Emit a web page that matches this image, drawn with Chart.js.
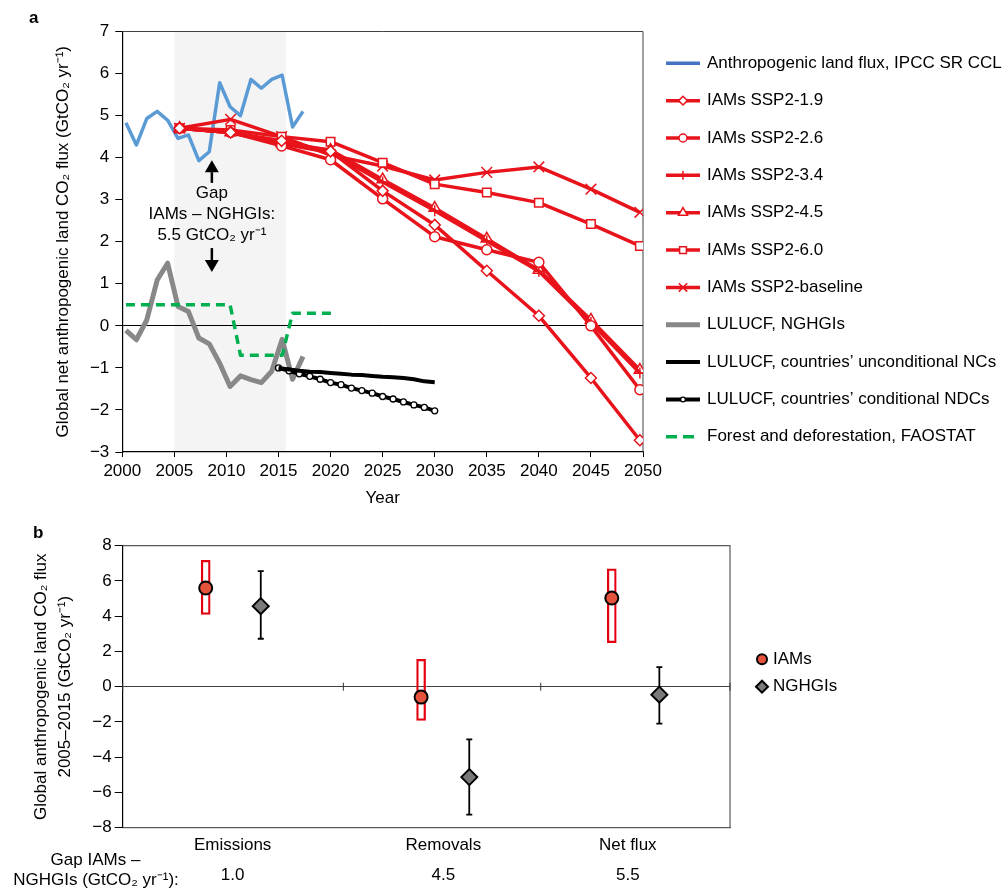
<!DOCTYPE html>
<html>
<head>
<meta charset="utf-8">
<script src="https://cdn.jsdelivr.net/npm/chart.js@4.4.1/dist/chart.umd.min.js"></script>
<style>
  html, body { margin: 0; padding: 0; background: #fff; }
  #wrap { position: relative; width: 1008px; height: 891px; }
  canvas { position: absolute; left: 0; }
  #panelA { top: 0; }
  #panelB { top: 510px; }
</style>
</head>
<body>
<div id="wrap">
  <canvas id="panelA" width="1008" height="510"></canvas>
  <canvas id="panelB" width="1008" height="381"></canvas>
</div>
<script>
// ==========================================
// 1. DATA
// ==========================================

// --- panel a: annual series (plotted mid-year) ---
const annualYears = [2000, 2001, 2002, 2003, 2004, 2005, 2006, 2007, 2008, 2009, 2010, 2011, 2012, 2013, 2014, 2015, 2016, 2017];
const ipccLandFlux = [4.83, 4.30, 4.93, 5.10, 4.89, 4.46, 4.54, 3.93, 4.14, 5.78, 5.21, 5.00, 5.86, 5.65, 5.86, 5.96, 4.73, 5.10];
const nghgiLulucf = [-0.11, -0.33, 0.14, 1.09, 1.49, 0.46, 0.34, -0.29, -0.43, -0.89, -1.44, -1.19, -1.28, -1.35, -1.08, -0.32, -1.27, -0.73];

const faoYears = [2000, 2001, 2002, 2003, 2004, 2005, 2006, 2007, 2008, 2009, 2010, 2011, 2012, 2013, 2014, 2015, 2016, 2017, 2018, 2019, 2020];
const faoForest = [0.5, 0.5, 0.5, 0.5, 0.5, 0.5, 0.5, 0.5, 0.5, 0.5, 0.5, -0.7, -0.7, -0.7, -0.7, -0.7, 0.3, 0.3, 0.3, 0.3, 0.3];

const ndcYears = [2015, 2016, 2017, 2018, 2019, 2020, 2021, 2022, 2023, 2024, 2025, 2026, 2027, 2028, 2029, 2030];
const ndcUnconditional = [-1.0, -1.04, -1.07, -1.09, -1.10, -1.12, -1.14, -1.16, -1.17, -1.19, -1.21, -1.22, -1.24, -1.27, -1.32, -1.34];
const ndcConditional = [-1.0, -1.07, -1.14, -1.20, -1.27, -1.35, -1.40, -1.48, -1.54, -1.60, -1.68, -1.74, -1.81, -1.88, -1.94, -2.02];

// --- panel a: IAM pathways ---
const iamYears = [2005.5, 2010.4, 2015.3, 2020, 2025, 2030, 2035, 2040, 2045, 2049.7];
const ssp19 = [4.70, 4.60, 4.40, 4.15, 3.21, 2.40, 1.31, 0.24, -1.24, -2.72];
const ssp26 = [4.70, 4.60, 4.28, 3.95, 3.02, 2.12, 1.81, 1.51, 0.00, -1.52];
const ssp34 = [4.70, 4.60, 4.33, 4.12, 3.42, 2.74, 2.02, 1.30, 0.08, -1.12];
const ssp45 = [4.70, 4.60, 4.34, 4.18, 3.48, 2.80, 2.07, 1.33, 0.14, -1.05];
const ssp60 = [4.70, 4.66, 4.50, 4.38, 3.88, 3.37, 3.17, 2.93, 2.42, 1.90];
const sspBase = [4.70, 4.91, 4.50, 4.06, 3.80, 3.47, 3.65, 3.78, 3.25, 2.70];

const annualOffset = 0.35;           // annual values sit inside their year
const gapPeriod = [2005, 2015.7];    // shaded 2005-2015 window
const gapArrowYear = 2008.6;

// --- panel b ---
const categories = ['Emissions', 'Removals', 'Net flux'];
const gapValues = ['1.0', '4.5', '5.5'];
const categoryPos = [0.543, 1.584, 2.495];
const categoryBounds = [0, 1.09, 2.065, 3];
const iamPos = [0.41, 1.474, 2.416];
const iamMean = [5.6, -0.59, 5.03];
const iamLow = [4.1, -1.91, 2.5];
const iamHigh = [7.17, 1.55, 6.69];
const nghgiPos = [0.682, 1.712, 2.651];
const nghgiMean = [4.57, -5.13, -0.45];
const nghgiLow = [2.72, -7.26, -2.1];
const nghgiHigh = [6.56, -2.99, 1.11];

// ==========================================
// 2. SHARED SETUP
// ==========================================
const FONT = "'Liberation Sans', Arial, Helvetica, sans-serif";
Chart.defaults.font.family = FONT;
Chart.defaults.font.size = 17;
Chart.defaults.color = '#000';
Chart.defaults.animation = false;

const RED = '#e8131b';
const pts = (xs, ys, dx = 0) => xs.map((x, i) => ({ x: x + dx, y: ys[i] }));
const fmtMinus = v => (v < 0 ? '\u2212' + Math.abs(v) : String(v));

function marker(ctx, style, r, bw, x, y) {
  if (Chart.helpers && Chart.helpers.drawPoint) {
    Chart.helpers.drawPoint(ctx, { pointStyle: style, radius: r, borderWidth: bw, rotation: 0 }, x, y);
  } else {
    ctx.beginPath(); ctx.arc(x, y, r, 0, Math.PI * 2); ctx.fill(); ctx.stroke();
  }
}

function iamSet(label, values, style, radius) {
  return {
    label, data: pts(iamYears, values),
    borderColor: RED, borderWidth: 3.5,
    pointStyle: style, pointRadius: radius, pointBorderWidth: 1.5,
    pointBackgroundColor: '#fff', pointBorderColor: RED, order: 0
  };
}

// ==========================================
// 3. PANEL A
// ==========================================
const shadeA = {
  id: 'shadeA',
  beforeDraw(chart) {
    const { ctx, chartArea: a, scales: { x } } = chart;
    ctx.save();
    ctx.fillStyle = '#f4f4f4';
    const x0 = x.getPixelForValue(gapPeriod[0]), x1 = x.getPixelForValue(gapPeriod[1]);
    ctx.fillRect(x0, a.top, x1 - x0, a.bottom - a.top);
    ctx.restore();
  },
  beforeDatasetsDraw(chart) {
    const { ctx, chartArea: a } = chart;
    ctx.save();
    ctx.strokeStyle = '#404040'; ctx.lineWidth = 1;
    ctx.beginPath(); ctx.moveTo(a.left, a.top); ctx.lineTo(a.right, a.top); ctx.lineTo(a.right, a.bottom); ctx.stroke();
    ctx.restore();
  }
};

function arrow(ctx, x, yFrom, yTo) {
  const dir = yTo < yFrom ? -1 : 1;
  const head = 12;
  ctx.beginPath();
  ctx.moveTo(x, yFrom); ctx.lineTo(x, yTo - dir * head);
  ctx.stroke();
  ctx.beginPath();
  ctx.moveTo(x, yTo);
  ctx.lineTo(x - 7, yTo - dir * head);
  ctx.lineTo(x + 7, yTo - dir * head);
  ctx.closePath();
  ctx.fill();
}

const notesA = {
  id: 'notesA',
  afterDatasetsDraw(chart) {
    const { ctx, scales: { x, y } } = chart;
    const cx = x.getPixelForValue(gapArrowYear);
    ctx.save();
    ctx.fillStyle = '#000'; ctx.strokeStyle = '#000'; ctx.lineWidth = 2.5;
    arrow(ctx, cx, y.getPixelForValue(3.4), y.getPixelForValue(3.94));
    arrow(ctx, cx, y.getPixelForValue(1.85), y.getPixelForValue(1.28));
    ctx.font = `17px ${FONT}`; ctx.textAlign = 'center'; ctx.textBaseline = 'middle';
    ctx.fillText('Gap', cx, y.getPixelForValue(3.16));
    ctx.fillText('IAMs \u2013 NGHGIs:', cx, y.getPixelForValue(2.66));
    ctx.fillText('5.5 GtCO\u2082 yr\u207B\u00B9', cx, y.getPixelForValue(2.16));
    ctx.font = `bold 17px ${FONT}`; ctx.textAlign = 'left'; ctx.textBaseline = 'alphabetic';
    ctx.fillText('a', 29, 23);
    ctx.restore();
  },
  afterDraw(chart) {
    const ctx = chart.ctx;
    ctx.save();
    chart.data.datasets.forEach((ds, i) => {
      const y = 63.3 + i * 37.35;
      ctx.strokeStyle = ds.legendColor || ds.borderColor;
      ctx.lineWidth = ds.borderWidth;
      ctx.setLineDash(ds.borderDash ? [11, 6] : []);
      ctx.beginPath(); ctx.moveTo(666, y); ctx.lineTo(700, y); ctx.stroke();
      ctx.setLineDash([]);
      if (ds.pointRadius > 0) {
        ctx.fillStyle = ds.pointBackgroundColor; ctx.strokeStyle = ds.pointBorderColor; ctx.lineWidth = ds.pointBorderWidth;
        marker(ctx, ds.pointStyle, ds.pointRadius * 0.8, ds.pointBorderWidth, 683, y);
      }
      ctx.fillStyle = '#000'; ctx.font = `17px ${FONT}`;
      ctx.textAlign = 'left'; ctx.textBaseline = 'middle';
      ctx.fillText(ds.label, 707, y);
    });
    ctx.restore();
  }
};

new Chart(document.getElementById('panelA'), {
  type: 'line',
  data: {
    datasets: [
      { label: 'Anthropogenic land flux, IPCC SR CCL', data: pts(annualYears, ipccLandFlux, annualOffset),
        borderColor: '#5b9bd5', legendColor: '#4472c4', borderWidth: 3.5, pointRadius: 0, order: 4 },
      iamSet('IAMs SSP2-1.9', ssp19, 'rectRot', 5.5),
      iamSet('IAMs SSP2-2.6', ssp26, 'circle', 5),
      iamSet('IAMs SSP2-3.4', ssp34, 'cross', 5.5),
      iamSet('IAMs SSP2-4.5', ssp45, 'triangle', 6.5),
      iamSet('IAMs SSP2-6.0', ssp60, 'rect', 6),
      iamSet('IAMs SSP2-baseline', sspBase, 'crossRot', 7.5),
      { label: 'LULUCF, NGHGIs', data: pts(annualYears, nghgiLulucf, annualOffset),
        borderColor: '#888888', borderWidth: 5, pointRadius: 0, order: 3 },
      { label: 'LULUCF, countries\u2019 unconditional NCs', data: pts(ndcYears, ndcUnconditional),
        borderColor: '#000', borderWidth: 4, pointRadius: 0, order: 1 },
      { label: 'LULUCF, countries\u2019 conditional NDCs', data: pts(ndcYears, ndcConditional),
        borderColor: '#000', borderWidth: 4, pointStyle: 'circle', pointRadius: 3,
        pointBackgroundColor: '#fff', pointBorderColor: '#000', pointBorderWidth: 1.3, order: 1 },
      { label: 'Forest and deforestation, FAOSTAT', data: pts(faoYears, faoForest, annualOffset),
        borderColor: '#00b050', borderWidth: 3.5, borderDash: [9, 6], pointRadius: 0, order: 2 }
    ]
  },
  options: {
    responsive: false,
    animation: false,
    layout: { padding: { left: 0, top: 31.5, right: 365, bottom: 0 } },
    elements: { line: { tension: 0, borderJoinStyle: 'round' } },
    plugins: { legend: { display: false }, tooltip: { enabled: false } },
    scales: {
      x: {
        type: 'linear', min: 2000, max: 2050,
        ticks: { stepSize: 5, padding: 4, maxRotation: 0, callback: v => String(v) },
        grid: { drawOnChartArea: false, color: '#000', tickLength: 5 },
        border: { color: '#000', width: 1.2 },
        title: { display: true, text: 'Year', padding: { top: 0, bottom: 1 } },
        afterFit: s => { s.height = 58; }
      },
      y: {
        min: -3, max: 7,
        ticks: { stepSize: 1, padding: 6, callback: fmtMinus },
        grid: { color: c => (c.tick && c.tick.value === 0 ? '#000' : 'rgba(0,0,0,0)'), tickColor: '#000', tickLength: 7 },
        border: { color: '#000', width: 1.2 },
        title: { display: true, text: 'Global net anthropogenic land CO\u2082 flux (GtCO\u2082 yr\u207B\u00B9)', padding: { top: 53, bottom: 0 } },
        afterFit: s => { s.width = 122.3; }
      }
    }
  },
  plugins: [shadeA, notesA]
});

// ==========================================
// 4. PANEL B
// ==========================================
const extrasB = {
  id: 'extrasB',
  beforeDatasetsDraw(chart) {
    const { ctx, chartArea: a, scales: { x, y } } = chart;
    ctx.save();
    ctx.strokeStyle = '#595959'; ctx.lineWidth = 1.2;
    ctx.beginPath(); ctx.moveTo(a.left, a.top); ctx.lineTo(a.right, a.top); ctx.lineTo(a.right, a.bottom); ctx.stroke();
    const y0 = y.getPixelForValue(0);
    ctx.strokeStyle = '#333'; ctx.lineWidth = 1;
    categoryBounds.forEach(v => {
      const px = x.getPixelForValue(v);
      ctx.beginPath(); ctx.moveTo(px, y0 - 4); ctx.lineTo(px, y0 + 4); ctx.stroke();
    });
    ctx.strokeStyle = '#000'; ctx.lineWidth = 1.8;
    nghgiPos.forEach((v, i) => {
      const px = x.getPixelForValue(v);
      const lo = y.getPixelForValue(nghgiLow[i]), hi = y.getPixelForValue(nghgiHigh[i]);
      ctx.beginPath();
      ctx.moveTo(px, lo); ctx.lineTo(px, hi);
      ctx.moveTo(px - 3, lo); ctx.lineTo(px + 3, lo);
      ctx.moveTo(px - 3, hi); ctx.lineTo(px + 3, hi);
      ctx.stroke();
    });
    ctx.restore();
  },
  afterDraw(chart) {
    const ctx = chart.ctx;
    ctx.save();
    ctx.fillStyle = '#000'; ctx.font = `17px ${FONT}`;
    ctx.textAlign = 'center'; ctx.textBaseline = 'middle';
    ctx.fillText('Gap IAMs \u2013', 95.5, 350);
    ctx.fillText('NGHGIs (GtCO\u2082 yr\u207B\u00B9):', 96, 370);
    // legend
    const items = chart.data.datasets.filter(ds => ds.type === 'scatter');
    items.forEach((ds, i) => {
      const y = 149.3 + i * 27.4;
      ctx.fillStyle = ds.pointBackgroundColor; ctx.strokeStyle = ds.pointBorderColor;
      ctx.lineWidth = ds.pointBorderWidth;
      marker(ctx, ds.pointStyle, ds.pointStyle === 'circle' ? 5 : 6, ds.pointBorderWidth, 762, y);
      ctx.fillStyle = '#000'; ctx.textAlign = 'left';
      ctx.fillText(ds.label, 773, y);
    });
    ctx.font = `bold 17px ${FONT}`; ctx.textBaseline = 'alphabetic';
    ctx.fillText('b', 33, 28);
    ctx.restore();
  }
};

new Chart(document.getElementById('panelB'), {
  type: 'scatter',
  data: {
    datasets: [
      { type: 'bar', label: 'IAM range', data: iamPos.map((x, i) => ({ x, y: [iamLow[i], iamHigh[i]] })),
        backgroundColor: 'rgba(255,255,255,0)', borderColor: '#e3000f', borderWidth: 1.6,
        borderSkipped: false, barThickness: 9, grouped: false, order: 2 },
      { type: 'scatter', label: 'IAMs', data: pts(iamPos, iamMean),
        pointStyle: 'circle', pointRadius: 6.5, pointBackgroundColor: '#e5533d',
        pointBorderColor: '#000', pointBorderWidth: 2, order: 0 },
      { type: 'scatter', label: 'NGHGIs', data: pts(nghgiPos, nghgiMean),
        pointStyle: 'rectRot', pointRadius: 8, pointBackgroundColor: '#7a7a7a',
        pointBorderColor: '#000', pointBorderWidth: 2, order: 0 }
    ]
  },
  options: {
    responsive: false,
    animation: false,
    layout: { padding: { left: 0, top: 35.7, right: 278, bottom: 0 } },
    plugins: { legend: { display: false }, tooltip: { enabled: false } },
    scales: {
      x: {
        type: 'linear', min: 0, max: 3, offset: false,
        afterBuildTicks: s => { s.ticks = categoryPos.map(v => ({ value: v })); },
        ticks: { autoSkip: false, maxRotation: 0, padding: 2.3, font: { size: 17, lineHeight: 1.765 },
          callback: (v, i) => [categories[i], gapValues[i]] },
        grid: { display: false, drawTicks: false, offset: false },
        border: { color: '#595959', width: 1.2 },
        afterFit: s => { s.height = 63.3; }
      },
      y: {
        min: -8, max: 8,
        ticks: { stepSize: 2, padding: 3, callback: fmtMinus },
        grid: { color: c => (c.tick && c.tick.value === 0 ? '#404040' : 'rgba(0,0,0,0)'), tickColor: '#000', tickLength: 8 },
        border: { color: '#000', width: 1.2 },
        title: { display: true, text: ['Global anthropogenic land CO\u2082 flux', '2005\u20132015 (GtCO\u2082 yr\u207B\u00B9)'],
          font: { size: 17, lineHeight: 1.37 }, padding: { top: 30, bottom: 0 } },
        afterFit: s => { s.width = 122.7; }
      }
    }
  },
  plugins: [extrasB]
});
</script>
</body>
</html>
